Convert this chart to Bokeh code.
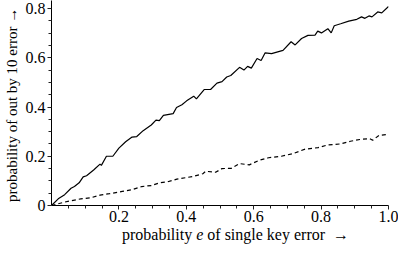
from bokeh.plotting import figure
from bokeh.models import FixedTicker, Range1d, Div
from bokeh.layouts import column
from bokeh.embed import file_html
from bokeh.resources import INLINE

# solid line: probability of out-by-10 error (upper curve)
solid_x = [0, 0.02, 0.039, 0.058, 0.068, 0.082, 0.094, 0.104, 0.125, 0.144, 0.148, 0.163,
           0.182, 0.2, 0.22, 0.239, 0.253, 0.272, 0.296, 0.31, 0.32, 0.332, 0.361, 0.371,
           0.387, 0.401, 0.422, 0.43, 0.453, 0.472, 0.491, 0.506, 0.52, 0.532, 0.558, 0.571,
           0.582, 0.593, 0.61, 0.622, 0.634, 0.653, 0.687, 0.711, 0.723, 0.742, 0.761, 0.782,
           0.79, 0.801, 0.82, 0.83, 0.839, 0.858, 0.882, 0.906, 0.92, 0.93, 0.942, 0.951,
           0.968, 0.98, 1.0]
solid_y = [0, 0.027, 0.044, 0.07, 0.077, 0.092, 0.116, 0.121, 0.144, 0.168, 0.163, 0.2,
           0.2, 0.233, 0.259, 0.278, 0.28, 0.304, 0.327, 0.347, 0.345, 0.366, 0.373, 0.398,
           0.409, 0.425, 0.444, 0.433, 0.471, 0.471, 0.497, 0.503, 0.522, 0.528, 0.561, 0.55,
           0.565, 0.558, 0.597, 0.589, 0.62, 0.617, 0.63, 0.665, 0.652, 0.678, 0.691, 0.692,
           0.708, 0.701, 0.718, 0.701, 0.73, 0.738, 0.749, 0.756, 0.766, 0.76, 0.77, 0.766,
           0.786, 0.782, 0.808]

# dashed line (lower curve)
dash_x = [0, 0.039, 0.087, 0.115, 0.144, 0.172, 0.21, 0.239, 0.268, 0.296, 0.32, 0.344,
          0.372, 0.42, 0.449, 0.458, 0.487, 0.506, 0.534, 0.558, 0.587, 0.615, 0.644, 0.682,
          0.715, 0.753, 0.791, 0.82, 0.858, 0.887, 0.915, 0.944, 0.953, 0.972, 1.0]
dash_y = [0, 0.014, 0.027, 0.031, 0.042, 0.048, 0.057, 0.064, 0.077, 0.081, 0.092, 0.096,
          0.107, 0.118, 0.129, 0.139, 0.135, 0.15, 0.151, 0.17, 0.165, 0.183, 0.194, 0.2,
          0.21, 0.229, 0.235, 0.246, 0.25, 0.261, 0.268, 0.272, 0.265, 0.285, 0.289]

x_ticks = [0.2, 0.4, 0.6, 0.8, 1.0]
x_tick_labels = ["0.2", "0.4", "0.6", "0.8", "1.0"]
x_minor = [0.05, 0.1, 0.15, 0.25, 0.3, 0.35, 0.45, 0.5, 0.55, 0.65,
           0.7, 0.75, 0.85, 0.9, 0.95]
y_ticks = [0, 0.2, 0.4, 0.6, 0.8]
y_tick_labels = ["0", "0.2", "0.4", "0.6", "0.8"]
y_minor = [0.05, 0.1, 0.15, 0.25, 0.3, 0.35, 0.45, 0.5, 0.55, 0.65, 0.7, 0.75]

FONT = "Liberation Serif"
FS = "16px"
Y_END = 0.8325

p = figure(width=398, height=224, output_backend="svg", toolbar_location=None,
           x_range=Range1d(0, 1.0), y_range=Range1d(0, Y_END),
           min_border_left=44, min_border_right=10, min_border_top=0,
           min_border_bottom=19)
p.outline_line_color = None
p.xgrid.visible = False
p.ygrid.visible = False

p.line(solid_x, solid_y, line_color="black", line_width=1.2)
p.line(dash_x, dash_y, line_color="black", line_width=1.2, line_dash="4 3")

for ax in (p.xaxis[0], p.yaxis[0]):
    ax.axis_line_color = "black"
    ax.axis_line_width = 1
    ax.major_tick_in = 0
    ax.major_tick_out = 4
    ax.minor_tick_in = 0
    ax.minor_tick_out = 3
    ax.major_tick_line_color = "#222222"
    ax.minor_tick_line_color = "#222222"
    ax.major_tick_line_width = 1
    ax.minor_tick_line_width = 1
    ax.major_label_text_font = FONT
    ax.major_label_text_font_size = FS
    ax.major_label_text_color = "black"
    ax.axis_label_text_font = FONT
    ax.axis_label_text_font_size = "15px"
    ax.axis_label_text_font_style = "normal"
    ax.axis_label_text_color = "black"

p.xaxis.ticker = FixedTicker(ticks=x_ticks, minor_ticks=x_minor)
p.yaxis.ticker = FixedTicker(ticks=y_ticks, minor_ticks=y_minor)
p.xaxis.major_label_overrides = {t: s for t, s in zip(x_ticks, x_tick_labels)}
p.yaxis.major_label_overrides = {t: s for t, s in zip(y_ticks, y_tick_labels)}
p.xaxis.major_label_standoff = 1
p.yaxis.major_label_standoff = 2
p.yaxis.axis_label = "probability of out by 10 error  \u2192"
p.yaxis.axis_label_standoff = 3

xlabel = Div(text="probability <i>e</i> of single key error &nbsp;\u2192",
             width=398, height=22, margin=(0, 0, 0, 0),
             styles={"font-family": FONT, "font-size": FS, "color": "black",
                     "text-align": "center", "line-height": "22px",
                     "padding-left": "73px", "box-sizing": "border-box",
                     "white-space": "nowrap"})

layout = column(p, xlabel, spacing=0)
open("out.html", "w").write(file_html(layout, INLINE))
